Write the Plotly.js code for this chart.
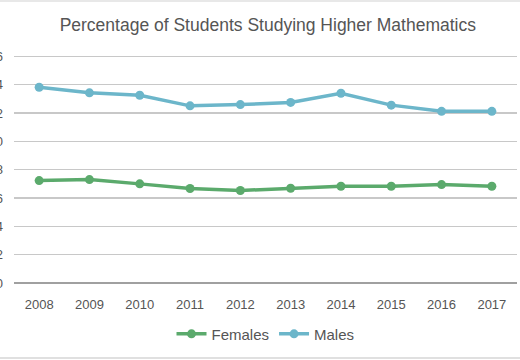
<!DOCTYPE html>
<html><head><meta charset="utf-8">
<script src="https://cdn.plot.ly/plotly-3.0.1.min.js"></script>
<style>html,body{margin:0;padding:0;background:#fff}#chart{width:520px;height:360px}</style>
</head><body><div id="chart"></div>
<script>
const years = ["2008","2009","2010","2011","2012","2013","2014","2015","2016","2017"];
const females = [7.23, 7.30, 7.00, 6.67, 6.53, 6.69, 6.83, 6.83, 6.95, 6.83];
const males = [13.82, 13.43, 13.26, 12.51, 12.60, 12.75, 13.40, 12.56, 12.12, 12.12];
const yTicks = [0, 2, 4, 6, 8, 10, 12, 14, 16];

const font = "'Liberation Sans', Arial, sans-serif";
const traces = [
  {x: years, y: females, name: "Females", type: "scatter", mode: "lines+markers",
   line: {color: "#5BAA6C", width: 3.5}, marker: {color: "#5BAA6C", size: 9}},
  {x: years, y: males, name: "Males", type: "scatter", mode: "lines+markers",
   line: {color: "#6CB6CA", width: 3.5}, marker: {color: "#6CB6CA", size: 9}}
];
const layout = {
  width: 520, height: 360,
  margin: {l: 14, r: 3, t: 55, b: 77},
  paper_bgcolor: "#fff", plot_bgcolor: "#fff",
  font: {family: font, color: "#555"},
  title: {text: "Percentage of Students Studying Higher Mathematics",
          font: {family: font, size: 17.5, color: "#555"}, x: 0.515, xanchor: "center", y: 0.93, yanchor: "middle"},
  xaxis: {type: "category", range: [-0.5, 9.5], showgrid: false, zeroline: false, showline: false,
          tickfont: {size: 13, color: "#555"}, ticks: "", ticklabelstandoff: 12},
  yaxis: {range: [0, 16.1], tickvals: yTicks, ticktext: yTicks.map(String), showgrid: true,
          gridcolor: "#C8C8C8", gridwidth: 1.5, zeroline: true, zerolinecolor: "#A0A0A0", zerolinewidth: 1.5,
          tickfont: {size: 13, color: "#555"}, ticklabelstandoff: 10, automargin: false, fixedrange: true},
  showlegend: true,
  legend: {orientation: "h", x: 0.5, xanchor: "center", y: -0.224, yanchor: "middle",
           font: {size: 15, color: "#555"}, tracegroupgap: 0},
  shapes: [
    {type: "line", xref: "paper", yref: "paper", x0: -0.05, x1: 1.05, y0: -0.329, y1: -0.329, line: {color: "#E0E0E0", width: 2}},
    {type: "line", xref: "paper", yref: "paper", x0: -0.05, x1: 1.05, y0: 1.237, y1: 1.237, line: {color: "#E8E8E8", width: 2}}
  ]
};
Plotly.newPlot("chart", traces, layout, {displayModeBar: false, staticPlot: true});
</script></body></html>
